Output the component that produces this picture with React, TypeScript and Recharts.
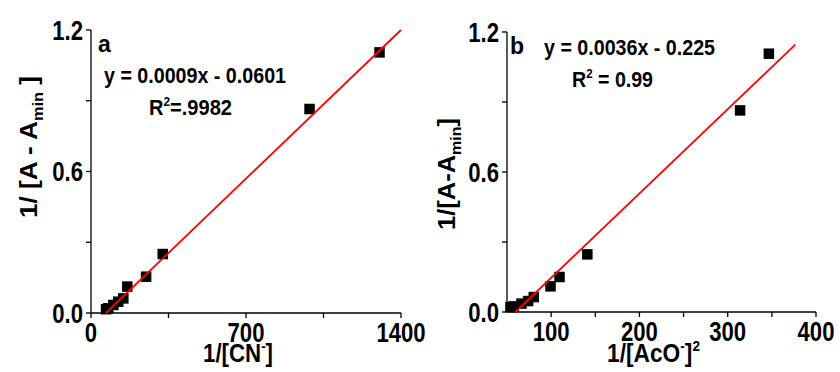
import React from "react";
import { ScatterChart, Scatter, XAxis, YAxis } from "recharts";

// panel a: 1/[CN-] vs 1/[A - Amin]
const cnX = [68, 78, 101, 123, 146, 164, 249, 324, 987, 1303];
const cnY = [0.016, 0.02, 0.034, 0.048, 0.062, 0.112, 0.154, 0.25, 0.865, 1.105];
const cnFitX = [67, 1400];
const cnFitY = [0, 1.2];
const cnTicks = [0, 350, 700, 1050, 1400];
const cnTickLabels = ["0", "", "700", "", "1400"];

// panel b: 1/[AcO-]^2 vs 1/[A - Amin]
const acoX = [53.9, 57.6, 66.4, 73.9, 80.3, 99.3, 109.5, 141, 314, 346.6];
const acoY = [0.021, 0.024, 0.036, 0.047, 0.064, 0.11, 0.15, 0.247, 0.864, 1.107];
const acoFitX = [59.5, 376.6];
const acoFitY = [0, 1.146];
const acoTicks = [100, 150, 200, 250, 300, 350, 400];
const acoTickLabels = ["100", "", "200", "", "300", "", "400"];

const yTicks = [0, 0.3, 0.6, 0.9, 1.2];
const yTickLabels = ["0.0", "", "0.6", "", "1.2"];

const FONT = "'Liberation Sans', Arial, sans-serif";

function pts(xs: number[], ys: number[]) {
	return xs.map((x, i) => ({ x, y: ys[i] }));
}

function makeTick(ticks: number[], labels: string[], side: "x" | "y") {
	return (props: any) => {
		const { x, y, payload } = props;
		const i = ticks.findIndex((t) => Math.abs(t - payload.value) < 1e-9);
		const label = i >= 0 ? labels[i] : "";
		if (!label) return <g />;
		return (
			<text transform={`translate(${x},${y}) scale(0.82,1)`}
			      textAnchor={side === "x" ? "middle" : "end"}
			      dy={side === "x" ? "0.71em" : "0.355em"}
			      fontFamily={FONT}
			      fontWeight="bold"
			      fontSize={27}
			      fill="#000">
				{label}
			</text>
		);
	};
}

function Square(props: any) {
	const s = 10.5;
	return <rect x={props.cx - s / 2} y={props.cy - s / 2} width={s} height={s} fill="#000" />;
}

const axisStyle = { stroke: "#000", strokeWidth: 1.3 };

function Panel({ data, fit, xDomain, xTicks, xLabels, margin, yWidth, xHeight }: any) {
	return (
		<ScatterChart width={440}
		              height={372}
		              margin={margin}>
			<XAxis type="number"
			       dataKey="x"
			       domain={xDomain}
			       ticks={xTicks}
			       interval={0}
			       height={xHeight}
			       tickSize={5}
			       tickMargin={5}
			       axisLine={axisStyle}
			       tickLine={axisStyle}
			       tick={makeTick(xTicks, xLabels, "x")} />
			<YAxis type="number"
			       dataKey="y"
			       domain={[0, 1.2]}
			       ticks={yTicks}
			       interval={0}
			       width={yWidth}
			       tickSize={5}
			       tickMargin={3}
			       axisLine={axisStyle}
			       tickLine={axisStyle}
			       tick={makeTick(yTicks, yTickLabels, "y")} />
			<Scatter data={data}
			         shape={Square}
			         isAnimationActive={false} />
			<Scatter data={fit}
			         line={{ stroke: "#ff0000", strokeWidth: 1.8 }}
			         shape={() => <g />}
			         isAnimationActive={false} />
		</ScatterChart>
	);
}

export default function App() {
	const t = { fontFamily: FONT, fontWeight: "bold" as const, fill: "#000" };
	return (
		<div style={{ position: "absolute", left: 0, top: 0, width: 840, height: 372, background: "#fff", overflow: "hidden" }}>
			<div style={{ position: "absolute", left: 0, top: 0 }}>
				<Panel data={pts(cnX, cnY)}
				       fit={pts(cnFitX, cnFitY)}
				       xDomain={[0, 1400]}
				       xTicks={cnTicks}
				       xLabels={cnTickLabels}
				       margin={{ top: 30, right: 39, bottom: 0, left: 0 }}
				       yWidth={91}
				       xHeight={59} />
			</div>
			<div style={{ position: "absolute", left: 420, top: 0 }}>
				<Panel data={pts(acoX, acoY)}
				       fit={pts(acoFitX, acoFitY)}
				       xDomain={[50, 400]}
				       xTicks={acoTicks}
				       xLabels={acoTickLabels}
				       margin={{ top: 32, right: 44, bottom: 0, left: 0 }}
				       yWidth={87}
				       xHeight={60} />
			</div>
			<svg width={840}
			     height={372}
			     style={{ position: "absolute", left: 0, top: 0, pointerEvents: "none", overflow: "visible" }}>
				{/* panel a */}
				<text x={98} y={52} fontSize={23} {...t}>a</text>
				<text x={104} y={83} fontSize={22} textLength={182} lengthAdjust="spacingAndGlyphs" {...t}>
					y = 0.0009x - 0.0601
				</text>
				<text x={149} y={115} fontSize={22} textLength={83} lengthAdjust="spacingAndGlyphs" {...t}>
					R<tspan fontSize={13} dy={-9}>2</tspan><tspan dy={9}>=.9982</tspan>
				</text>
				<text x={203} y={362} fontSize={25} textLength={70} lengthAdjust="spacingAndGlyphs" {...t}>
					1/[CN<tspan fontSize={15} dy={-11}>-</tspan><tspan dy={11}>]</tspan>
				</text>
				<text transform="translate(37,218) rotate(-90)" fontSize={24} textLength={142} lengthAdjust="spacingAndGlyphs" {...t}>
					1/ [A - A<tspan fontSize={15} dy={6}>min</tspan><tspan dy={-6}> ]</tspan>
				</text>
				{/* panel b */}
				<text x={510} y={54} fontSize={23} {...t}>b</text>
				<text x={544} y={55} fontSize={22} textLength={171} lengthAdjust="spacingAndGlyphs" {...t}>
					y = 0.0036x - 0.225
				</text>
				<text x={572} y={87} fontSize={22} textLength={81} lengthAdjust="spacingAndGlyphs" {...t}>
					R<tspan fontSize={13} dy={-9}>2</tspan><tspan dy={9}> = 0.99</tspan>
				</text>
				<text x={607} y={362} fontSize={25} textLength={93} lengthAdjust="spacingAndGlyphs" {...t}>
					1/[AcO<tspan fontSize={15} dy={-11}>-</tspan><tspan dy={11}>]</tspan><tspan fontSize={15} dy={-11}>2</tspan>
				</text>
				<text transform="translate(455,230) rotate(-90)" fontSize={24} textLength={112} lengthAdjust="spacingAndGlyphs" {...t}>
					1/[A-A<tspan fontSize={15} dy={6}>min</tspan><tspan dy={-6}>]</tspan>
				</text>
			</svg>
		</div>
	);
}
